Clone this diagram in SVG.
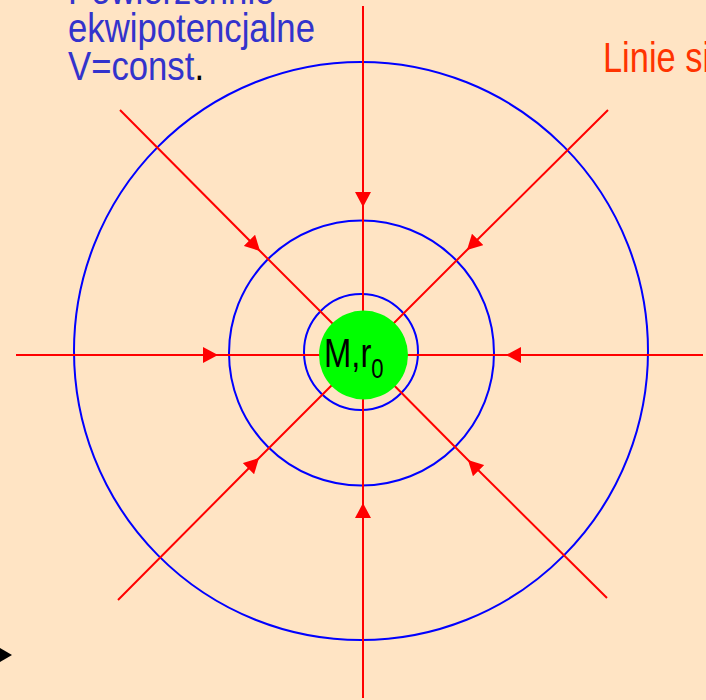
<svg xmlns="http://www.w3.org/2000/svg" width="706" height="700" viewBox="0 0 706 700">
<style>
.bg{fill:#FFE4C4}
.eq{fill:none;stroke:#0000FF;stroke-width:2}
.fl{fill:none;stroke:#FF0000;stroke-width:2}
.lbl{font-family:"Liberation Sans",Arial,sans-serif;font-size:40px}
.blue{fill:#3333CC}
.orange{fill:#FF3300}
</style>
<defs>
<marker id="arr" markerUnits="userSpaceOnUse" markerWidth="15" markerHeight="16" viewBox="0 0 15 16" refX="15" refY="8" orient="auto">
<path d="M0,0 L15,8 L0,16 z" fill="#FF0000"/>
</marker>
</defs>
<rect class="bg" x="0" y="0" width="706" height="700"/>
<g id="equipotentials">
<ellipse class="eq" cx="361" cy="351" rx="287" ry="289"/>
<ellipse class="eq" cx="361.5" cy="353" rx="132.5" ry="132.5"/>
<ellipse class="eq" cx="361" cy="352" rx="57" ry="58"/>
</g>
<g id="connectors">
<path class="fl" d="M16,355 L218,355 L363,355" marker-mid="url(#arr)"/>
<path class="fl" d="M703,355 L506,355 L363,355" marker-mid="url(#arr)"/>
<path class="fl" d="M363,6 L363,207 L363,355" marker-mid="url(#arr)"/>
<path class="fl" d="M363,698 L363,503 L363,355" marker-mid="url(#arr)"/>
<path class="fl" d="M120,110 L260,251 L363,354" marker-mid="url(#arr)"/>
<path class="fl" d="M608,110 L467,250 L363,354" marker-mid="url(#arr)"/>
<path class="fl" d="M607,598 L468,460 L363,354" marker-mid="url(#arr)"/>
<path class="fl" d="M118,600 L259,458 L363,354" marker-mid="url(#arr)"/>
</g>
<g id="mass">
<circle cx="363.5" cy="355" r="44.5" fill="#00FF00"/>
<text class="lbl" fill="#000" transform="translate(324,367) scale(0.82,1)">M,r<tspan font-size="27" dy="11">0</tspan></text>
</g>
<g id="label-equipotential">
<text class="lbl blue" transform="translate(68,4) scale(0.868,1)">Powierzchnie</text>
<text class="lbl blue" transform="translate(68,42) scale(0.868,1)">ekwipotencjalne</text>
<text class="lbl blue" transform="translate(68,80) scale(0.868,1)">V=const<tspan fill="#000">.</tspan></text>
</g>
<g id="label-fieldlines">
<text class="lbl orange" style="font-size:43px" transform="translate(603,72) scale(0.8,1)">Linie si</text>
</g>
<polygon points="0,648 12,655 0,662" fill="#000"/>
</svg>
